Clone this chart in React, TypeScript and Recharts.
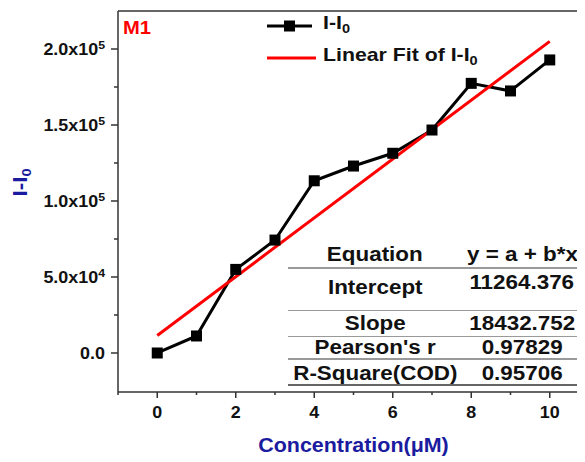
import React from "react";
import { LineChart, Line, XAxis, YAxis, ReferenceLine, Legend, Label } from "recharts";

const concentration = [0, 1, 2, 3, 4, 5, 6, 7, 8, 9, 10];
const intensity = [0, 11200, 55000, 74300, 113300, 123000, 131400, 146700, 177400, 172400, 192800];

// linear fit, end points as drawn
const fitX = [0, 10];
const fitY = [11500, 205000];

const xMajorTicks = [0, 2, 4, 6, 8, 10];
const xMinorTicks = [-1, 1, 3, 5, 7, 9, 11];
const yMajorTicks = [0, 50000, 100000, 150000, 200000];
const yMinorTicks = [25000, 75000, 125000, 175000];

const tableLabels = ["Equation", "Intercept", "Slope", "Pearson's r", "R-Square(COD)"];
const tableValues = ["y = a + b*x", "11264.376", "18432.752", "0.97829", "0.95706"];

const legendNames = ["I-I", "Linear Fit of I-I"];

const FONT = '"Liberation Sans", Arial, sans-serif';
const BLUE = "#1b1b9f";
const AXIS = "#333";
const X_DOMAIN = [-1, 11];
const Y_DOMAIN = [-25660, 225000];

// table layout (wrapper px)
const labelBaselines = [253, 286, 322, 346, 372];
const valueBaselines = [253, 281, 322, 346, 372];
const rules = [260, 302.5, 328.5, 351, 377];

function formatY(v: number) {
  if (v === 0) return { m: "0.0", e: "" };
  const e = Math.floor(Math.log10(v));
  return { m: (v / Math.pow(10, e)).toFixed(1) + "x10", e: String(e) };
}

function YTick(props: any) {
  const { x, y, payload } = props;
  const v = payload.value;
  const major = yMajorTicks.includes(v);
  const f = formatY(v);
  return (
    <g>
      <line x1={x - (major ? 7 : 4)} x2={x} y1={y} y2={y} stroke={AXIS} strokeWidth={1.5} />
      {major && (
        <g transform={`translate(${x - 13},${y + 6}) scale(1.12,1)`}>
          <text textAnchor="end" fontFamily={FONT} fontWeight="bold" fontSize={16} fill="#111">
            {f.m}
            {f.e && (
              <tspan fontSize={11} dy={-6}>
                {f.e}
              </tspan>
            )}
          </text>
        </g>
      )}
    </g>
  );
}

function XTick(props: any) {
  const { x, y, payload } = props;
  const v = payload.value;
  const major = xMajorTicks.includes(v);
  return (
    <g>
      <line x1={x} x2={x} y1={y} y2={y + (major ? 6 : 3)} stroke={AXIS} strokeWidth={1.5} />
      {major && (
        <g transform={`translate(${x},${y + 26}) scale(1.12,1)`}>
          <text textAnchor="middle" fontFamily={FONT} fontWeight="bold" fontSize={16} fill="#111">
            {v}
          </text>
        </g>
      )}
    </g>
  );
}

function XTitle(props: any) {
  const { x, y, width } = props.viewBox;
  return (
    <g transform={`translate(${x + width / 2},${y + 60}) scale(1.1,1)`}>
      <text textAnchor="middle" fontFamily={FONT} fontWeight="bold" fontSize={19.5} fill={BLUE}>
        Concentration(μM)
      </text>
    </g>
  );
}

function YTitle(props: any) {
  const { x, y } = props.viewBox;
  return (
    <g transform={`translate(${x + 19},${y + 171.5}) rotate(-90) scale(1.12,1)`}>
      <text textAnchor="middle" fontFamily={FONT} fontWeight="bold" fontSize={20} fill={BLUE}>
        I-I
        <tspan fontSize={13} dy={4}>
          0
        </tspan>
      </text>
    </g>
  );
}

const txt = (size: number): React.CSSProperties => ({
  display: "inline-block",
  fontFamily: FONT,
  fontWeight: "bold",
  fontSize: size,
  lineHeight: `${size}px`,
  whiteSpace: "nowrap",
  transform: "scaleX(1.12)",
  transformOrigin: "left center",
  color: "#111",
});

function LegendContent() {
  return (
    <div>
      {legendNames.map((name, i) => (
        <div key={name} style={{ display: "flex", alignItems: "center", height: 32 }}>
          <svg width={57} height={14}>
            <line x1={1} x2={i === 0 ? 46 : 50} y1={7} y2={7} stroke={i === 0 ? "#000" : "#ff0000"} strokeWidth={3} />
            {i === 0 && <rect x={18} y={1.5} width={11} height={11} fill="#000" />}
          </svg>
          <span style={txt(19)}>
            {name}
            <span style={{ fontSize: 13, verticalAlign: "-4px" }}>0</span>
          </span>
        </div>
      ))}
    </div>
  );
}

function Square(p: any) {
  return <rect key={`sq-${p.index}`} x={p.cx - 5.5} y={p.cy - 5.5} width={11} height={11} fill="#000" />;
}

export default function App() {
  const measured = concentration.map((x, i) => ({ x, y: intensity[i] }));
  const fit = fitX.map((x, i) => ({ x, y: fitY[i] }));

  return (
    <div style={{ position: "relative", width: 577, height: 454, overflow: "hidden" }}>
      <LineChart width={581} height={454} margin={{ top: 3, right: 0, bottom: 0, left: 0 }}>
        <XAxis
          dataKey="x"
          type="number"
          domain={X_DOMAIN}
          allowDataOverflow
          ticks={[...xMinorTicks, ...xMajorTicks].sort((a, b) => a - b)}
          interval={0}
          tickSize={0}
          tickMargin={0}
          tickLine={false}
          tick={<XTick />}
          height={70}
          axisLine={{ stroke: AXIS, strokeWidth: 1.5 }}
        >
          <Label content={XTitle} />
        </XAxis>
        <YAxis
          type="number"
          domain={Y_DOMAIN}
          allowDataOverflow
          ticks={[...yMinorTicks, ...yMajorTicks].sort((a, b) => a - b)}
          interval={0}
          tickSize={0}
          tickMargin={0}
          tickLine={false}
          tick={<YTick />}
          width={110}
          axisLine={{ stroke: AXIS, strokeWidth: 1.5 }}
        >
          <Label content={YTitle} />
        </YAxis>
        <ReferenceLine y={Y_DOMAIN[1]} stroke={AXIS} strokeWidth={1.5} />
        <Legend
          layout="vertical"
          align="center"
          verticalAlign="middle"
          content={LegendContent}
          wrapperStyle={{ left: 258, top: 1.5, width: 318, height: 64 }}
        />
        <Line data={measured} dataKey="y" stroke="#000" strokeWidth={3} dot={Square} isAnimationActive={false} />
        <Line data={fit} dataKey="y" stroke="#ff0000" strokeWidth={3} dot={false} isAnimationActive={false} />
      </LineChart>

      <div style={{ position: "absolute", left: 115, top: 10.8, ...txt(18), color: "#ff0000" }}>M1</div>

      {rules.map((r, i) => (
        <div
          key={`rule-${i}`}
          style={{ position: "absolute", left: 280, width: 300, top: r - 1, height: 1.5, background: i === rules.length - 1 ? "#666" : "#999" }}
        />
      ))}
      {tableLabels.map((l, i) => (
        <div
          key={`lab-${i}`}
          style={{ position: "absolute", left: 267, width: 200, top: labelBaselines[i] - 17, textAlign: "center" }}
        >
          <span style={{ ...txt(20), transformOrigin: "center center" }}>{l}</span>
        </div>
      ))}
      {tableValues.map((v, i) => (
        <div
          key={`val-${i}`}
          style={{ position: "absolute", left: 414, width: 200, top: valueBaselines[i] - 17, textAlign: "center" }}
        >
          <span style={{ ...txt(20), transformOrigin: "center center" }}>{v}</span>
        </div>
      ))}
    </div>
  );
}
